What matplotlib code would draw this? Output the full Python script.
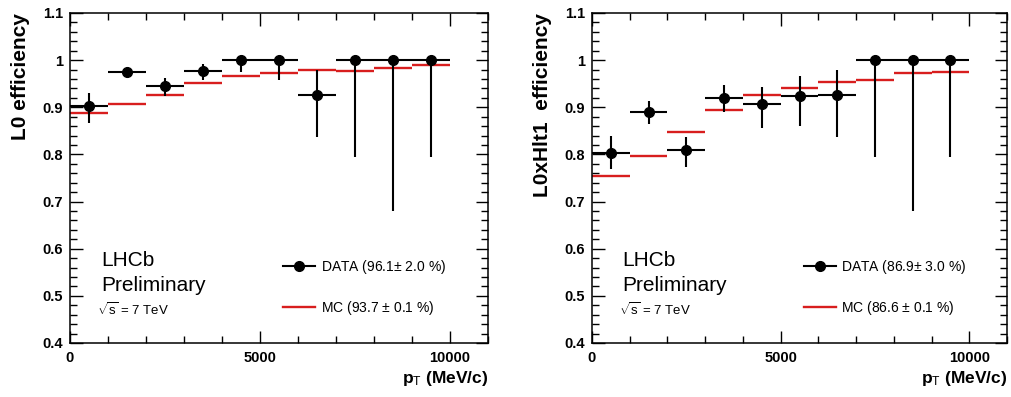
import numpy as np
import matplotlib
matplotlib.use("Agg")
import matplotlib.pyplot as plt
from matplotlib.lines import Line2D
from matplotlib.ticker import MultipleLocator

plt.rcParams['font.family'] = ['Liberation Sans', 'DejaVu Sans']
plt.rcParams['mathtext.fontset'] = 'custom'
plt.rcParams['mathtext.rm'] = 'Liberation Sans'
plt.rcParams['mathtext.it'] = 'Liberation Sans:italic'
plt.rcParams['mathtext.bf'] = 'Liberation Sans:bold'

# ---- data ----
bin_edges = [0, 1000, 2000, 3000, 4000, 5000, 6000, 7000, 8000, 9000, 10000]

l0_data = [0.902, 0.975, 0.945, 0.978, 1.000, 1.000, 0.927, 1.000, 1.000, 1.000]
l0_err_lo = [0.035, 0.008, 0.020, 0.021, 0.025, 0.043, 0.091, 0.206, 0.319, 0.206]
l0_err_hi = [0.028, 0.006, 0.017, 0.013, 0.000, 0.000, 0.053, 0.000, 0.000, 0.000]
l0_mc = [0.888, 0.908, 0.927, 0.951, 0.966, 0.972, 0.979, 0.977, 0.984, 0.989]

hlt_data = [0.803, 0.891, 0.809, 0.920, 0.908, 0.923, 0.927, 1.000, 1.000, 1.000]
hlt_err_lo = [0.034, 0.026, 0.035, 0.031, 0.052, 0.062, 0.091, 0.206, 0.319, 0.206]
hlt_err_hi = [0.037, 0.023, 0.029, 0.028, 0.035, 0.043, 0.053, 0.000, 0.000, 0.000]
hlt_mc = [0.755, 0.796, 0.848, 0.895, 0.926, 0.941, 0.953, 0.957, 0.973, 0.974]

panels = [
    dict(ylabel='L0 efficiency', data=l0_data, lo=l0_err_lo, hi=l0_err_hi, mc=l0_mc,
         data_label='DATA (96.1$\\pm$ 2.0 %)', mc_label='MC (93.7 $\\pm$ 0.1 %)',
         rect=[70/1011, 1-343/397, 418/1011, 330/397]),
    dict(ylabel='L0xHlt1  efficiency', data=hlt_data, lo=hlt_err_lo, hi=hlt_err_hi, mc=hlt_mc,
         data_label='DATA (86.9$\\pm$ 3.0 %)', mc_label='MC (86.6 $\\pm$ 0.1 %)',
         rect=[592/1011, 1-343/397, 415/1011, 330/397]),
]

RED = '#d81e1e'

fig = plt.figure(figsize=(10.11, 3.97), dpi=100)

edges = np.array(bin_edges, dtype=float)
centers = 0.5 * (edges[:-1] + edges[1:])
halfw = 0.5 * (edges[1:] - edges[:-1])


def yfmt(v, pos):
    if abs(v - 1) < 1e-9:
        return '1'
    return '%.1f' % v


for p in panels:
    ax = fig.add_axes(p['rect'])
    ax.hlines(p['mc'], edges[:-1], edges[1:], colors=RED, lw=1.7, zorder=2)
    ax.errorbar(centers, p['data'], xerr=halfw, yerr=[p['lo'], p['hi']],
                fmt='o', color='black', ms=7, elinewidth=1.5, capsize=0, zorder=3)
    ax.set_xlim(0, 11000)
    ax.set_ylim(0.4, 1.1)
    ax.xaxis.set_major_locator(MultipleLocator(5000))
    ax.xaxis.set_minor_locator(MultipleLocator(1000))
    ax.yaxis.set_major_locator(MultipleLocator(0.1))
    ax.yaxis.set_minor_locator(MultipleLocator(0.02))
    ax.yaxis.set_major_formatter(matplotlib.ticker.FuncFormatter(yfmt))
    ax.tick_params(which='both', direction='in', top=True, right=True, width=1.0)
    ax.tick_params(which='major', length=9, labelsize=10.5)
    ax.tick_params(axis='x', which='major', pad=6)
    ax.tick_params(axis='y', which='major', pad=5)
    ax.tick_params(which='minor', length=5)
    for lab in ax.get_xticklabels() + ax.get_yticklabels():
        lab.set_fontweight('bold')
    for s in ax.spines.values():
        s.set_linewidth(1.1)
    ax.set_ylabel(p['ylabel'], fontsize=15, fontweight='bold', loc='top')
    ax.yaxis.set_label_coords(-0.096, 1.0)
    ax.set_xlabel(r'p$_{\mathrm{T}}$ (MeV/c)', fontsize=12.5, fontweight='bold', loc='right', labelpad=3)

    ax.text(0.074, 0.25, 'LHCb', transform=ax.transAxes, fontsize=15, va='center', ha='left')
    ax.text(0.074, 0.174, 'Preliminary', transform=ax.transAxes, fontsize=15, va='center', ha='left')
    ax.text(0.064, 0.10, r'$\sqrt{\mathrm{s}}$ = 7 TeV', transform=ax.transAxes, fontsize=9.5, va='center', ha='left')

    handles = [Line2D([], [], color='black', marker='o', ms=7, lw=1.5),
               Line2D([], [], color=RED, lw=1.7)]
    ax.legend(handles, [p['data_label'], p['mc_label']], loc='upper left',
              bbox_to_anchor=(0.51, 0.257), frameon=False, fontsize=10,
              handlelength=2.3, handletextpad=0.4, labelspacing=1.65,
              borderpad=0, borderaxespad=0)

fig.savefig('out.png', dpi=100)
